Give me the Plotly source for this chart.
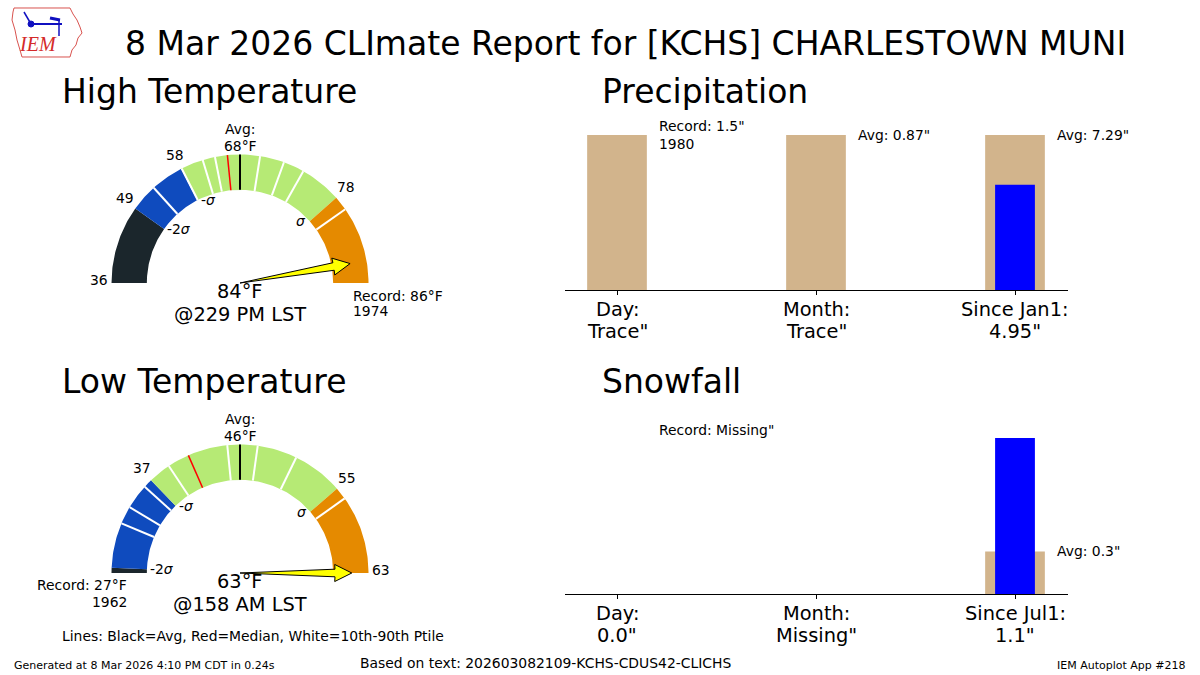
import numpy as np
import plotly.graph_objects as go

W, H = 1200, 675
FONT = "DejaVu Sans"

# ---------------- data ----------------
TITLE = "8 Mar 2026 CLImate Report for [KCHS] CHARLESTOWN MUNI"

# High temperature gauge
HIGH_MIN = 36
HIGH_AVG = 68
HIGH_MAX = 86
HIGH_SIGMA = 9.7
HIGH_PTILES = [53, 58.4, 62, 64, 69.8, 72, 73.9, 79]
HIGH_MEDIAN = 66
HIGH_OBS = 84
HIGH_OBS_TIME = "@229 PM LST"
HIGH_TICKS = [36, 48.6, 58.3, 77.7]
HIGH_RECORD = 86
HIGH_RECORD_YEAR = 1974

# Low temperature gauge
LOW_MIN = 27
LOW_AVG = 46
LOW_MAX = 63
LOW_SIGMA = 9.25
LOW_PTILES = [31.8, 33.5, 35.9, 38.9, 44.8, 47.5, 50.9, 56.3]
LOW_MEDIAN = 41
LOW_OBS = 63
LOW_OBS_TIME = "@158 AM LST"
LOW_TICKS = [36.75, 55.25, 63]
LOW_RECORD = 27
LOW_RECORD_YEAR = 1962

# Precipitation ("Trace" plotted as 0)
PRECIP_CATS = ["Day:", "Month:", "Since Jan1:"]
PRECIP_OBS = [0.0, 0.0, 4.95]
PRECIP_OBS_TEXT = ['Trace"', 'Trace"', '4.95"']
PRECIP_REF = [1.5, 0.87, 7.29]
PRECIP_REF_TEXT = ['Record: 1.5"<br>1980', 'Avg: 0.87"', 'Avg: 7.29"']

# Snowfall
SNOW_CATS = ["Day:", "Month:", "Since Jul1:"]
SNOW_OBS = [0.0, None, 1.1]
SNOW_OBS_TEXT = ['0.0"', 'Missing"', '1.1"']
SNOW_REF = [None, None, 0.3]
SNOW_REF_TEXT = ['Record: Missing"', None, 'Avg: 0.3"']

BAND_COLORS = ["#1b262c", "#0f4bbe", "#b6ea75", "#e58a00"]


def px_x(x):
    return x / W


def px_y(y):
    return 1 - y / H


fig = go.Figure()

# ---------------- gauge axes geometry ----------------
R_PX = 128.5
GX = (-1.8, 1.8)
GY = (-0.7, 1.35)


def gauge_domain(cx, cy):
    xd = [px_x(cx + GX[0] * R_PX), px_x(cx + GX[1] * R_PX)]
    yd = [px_y(cy - GY[0] * R_PX), px_y(cy - GY[1] * R_PX)]
    return xd, yd


R_IN, R_OUT = 0.725, 1.0


def ang(v, vmin, avg, vmax):
    if v <= avg:
        return np.pi - (v - vmin) / (avg - vmin) * np.pi / 2
    return np.pi / 2 - (v - avg) / (vmax - avg) * np.pi / 2


annotations = []


def ann(text, x, y, xref, yref, size=13.9, xanchor="center", yanchor="middle",
        color="black", align="center", family=FONT):
    annotations.append(dict(text=text, x=x, y=y, xref=xref, yref=yref,
                            showarrow=False, xanchor=xanchor, yanchor=yanchor,
                            align=align, font=dict(size=size, color=color, family=family)))


def gauge(xa, ya, vmin, avg, vmax, sigma, ptiles, median, obs, obs_time,
          ticks, record, record_year, record_side):
    bounds = [vmin, max(vmin, avg - 2 * sigma), avg - sigma, avg + sigma, vmax]
    for i in range(4):
        a0 = ang(bounds[i], vmin, avg, vmax)
        a1 = ang(bounds[i + 1], vmin, avg, vmax)
        t = np.linspace(a0, a1, 50)
        xs = np.concatenate([R_OUT * np.cos(t), R_IN * np.cos(t[::-1])])
        ys = np.concatenate([R_OUT * np.sin(t), R_IN * np.sin(t[::-1])])
        fig.add_trace(go.Scatter(x=xs, y=ys, fill="toself", fillcolor=BAND_COLORS[i],
                                 mode="lines", line=dict(width=0, color=BAND_COLORS[i]),
                                 xaxis=xa, yaxis=ya, hoverinfo="skip"))
    # percentile lines
    for v, c, w in [(p, "white", 2) for p in ptiles] + [(median, "red", 1.5), (avg, "black", 2)]:
        a = ang(v, vmin, avg, vmax)
        fig.add_trace(go.Scatter(x=[R_IN * np.cos(a), R_OUT * np.cos(a)],
                                 y=[R_IN * np.sin(a), R_OUT * np.sin(a)],
                                 mode="lines", line=dict(color=c, width=w),
                                 xaxis=xa, yaxis=ya, hoverinfo="skip"))
    # arrow
    a = ang(obs, vmin, avg, vmax)
    L, h, ds, dh = 0.87, 0.13, 0.04, 0.09
    pts = [(0.0, a), (L - h, a + ds), (L - h, a + dh), (L, a), (L - h, a - dh), (L - h, a - ds), (0.0, a)]
    fig.add_trace(go.Scatter(x=[r * np.cos(t) for r, t in pts], y=[r * np.sin(t) for r, t in pts],
                             fill="toself", fillcolor="#ffff00", mode="lines",
                             line=dict(color="black", width=1), xaxis=xa, yaxis=ya, hoverinfo="skip"))
    xr, yr = xa, ya
    # tick labels
    for v in ticks:
        t = ang(v, vmin, avg, vmax)
        ann(f"{v:.0f}", 1.1 * np.cos(t), 1.1 * np.sin(t) + 0.02, xr, yr)
    # sigma labels
    for v, lab in [(avg - 2 * sigma, "-2<i>σ</i>"), (avg - sigma, "-<i>σ</i>"), (avg + sigma, "<i>σ</i>")]:
        t = ang(v, vmin, avg, vmax)
        ann(lab, R_IN * np.cos(t) + (0.01 if v < avg else -0.01), R_IN * np.sin(t), xr, yr,
            xanchor="left" if v < avg else "right")
    # avg
    ann("Avg:", 0, 1.198, xr, yr)
    ann(f"{avg}°F", 0, 1.066, xr, yr)
    # observed
    ann(f"{obs}°F", 0, -0.07, xr, yr, size=19.4)
    ann(obs_time, 0, -0.249, xr, yr, size=19.4)
    # record
    if record_side == "right":
        ann(f"Record: {record}°F", 0.864, -0.101, xr, yr, xanchor="left")
        ann(f"{record_year}", 0.864, -0.218, xr, yr, xanchor="left")
    else:
        ann(f"Record: {record}°F", -0.866, -0.095, xr, yr, xanchor="right")
        ann(f"{record_year}", -0.866, -0.226, xr, yr, xanchor="right")


gauge("x", "y", HIGH_MIN, HIGH_AVG, HIGH_MAX, HIGH_SIGMA, HIGH_PTILES, HIGH_MEDIAN,
      HIGH_OBS, HIGH_OBS_TIME, HIGH_TICKS, HIGH_RECORD, HIGH_RECORD_YEAR, "right")
gauge("x2", "y2", LOW_MIN, LOW_AVG, LOW_MAX, LOW_SIGMA, LOW_PTILES, LOW_MEDIAN,
      LOW_OBS, LOW_OBS_TIME, LOW_TICKS, LOW_RECORD, LOW_RECORD_YEAR, "left")

# ---------------- bar panels ----------------
YTOP = 1.15


def bars(xa, ya, cats, obs, obs_text, ref, ref_text, axis_px):
    tan_h, blue_h = [], []
    for o, r in zip(obs, ref):
        vals = [v for v in (o, r) if v is not None]
        d = max(vals) if vals else 0
        tan_h.append(r / d if (r is not None and d > 0) else None)
        blue_h.append(o / d if (o is not None and d > 0) else None)
    xs = list(range(len(obs)))
    fig.add_trace(go.Bar(x=xs, y=tan_h, width=0.3, marker=dict(color="#d2b48c", line=dict(width=0)),
                         xaxis=xa, yaxis=ya, hoverinfo="skip"))
    fig.add_trace(go.Bar(x=xs, y=blue_h, width=0.2, marker=dict(color="#0000ff", line=dict(width=0)),
                         xaxis=xa, yaxis=ya, hoverinfo="skip"))
    for i, txt in enumerate(ref_text):
        if txt is None:
            continue
        yv = tan_h[i] if tan_h[i] is not None else 1.05
        ann(txt, i + 0.2, yv, xa, ya, xanchor="left", align="left")
    # category labels (two lines) below the axis ticks
    for i, (c, t) in enumerate(zip(cats, obs_text)):
        ann(c, i, px_y(axis_px + 19), xa, "paper", size=19.4)
        ann(t, i, px_y(axis_px + 41), xa, "paper", size=19.4)


bars("x3", "y3", PRECIP_CATS, PRECIP_OBS, PRECIP_OBS_TEXT, PRECIP_REF, PRECIP_REF_TEXT, 290)
bars("x4", "y4", SNOW_CATS, SNOW_OBS, SNOW_OBS_TEXT, SNOW_REF, SNOW_REF_TEXT, 594)

# ---------------- layout ----------------
hx, hy = gauge_domain(240, 283)
lx, ly = gauge_domain(240, 573)
gax = dict(visible=False, fixedrange=True)

BX0, BX1 = 565, 1068
TICK0, TICKSTEP = 617, 199
bx_range = [(BX0 - TICK0) / TICKSTEP, (BX1 - TICK0) / TICKSTEP]


def bar_xaxis(cats, anchor):
    return dict(domain=[px_x(BX0), px_x(BX1)], range=bx_range, anchor=anchor,
                showline=True, linecolor="black", linewidth=1.2, showgrid=False, zeroline=False,
                ticks="outside", ticklen=4, tickwidth=1, tickcolor="black",
                tickvals=list(range(len(cats))), showticklabels=False, fixedrange=True)


def bar_yaxis(y0px, y1px, anchor):
    unit = y0px - y1px
    return dict(domain=[px_y(y0px), px_y(y0px - YTOP * unit)], range=[0, YTOP], visible=False,
                anchor=anchor, fixedrange=True)


fig.update_layout(
    width=W, height=H, margin=dict(l=0, r=0, t=0, b=0),
    paper_bgcolor="white", plot_bgcolor="white", showlegend=False, barmode="overlay",
    xaxis=dict(domain=hx, range=GX, anchor="y", **gax),
    yaxis=dict(domain=hy, range=GY, anchor="x", **gax),
    xaxis2=dict(domain=lx, range=GX, anchor="y2", **gax),
    yaxis2=dict(domain=ly, range=GY, anchor="x2", **gax),
    xaxis3=bar_xaxis(PRECIP_CATS, "y3"),
    yaxis3=bar_yaxis(290, 135, "x3"),
    xaxis4=bar_xaxis(SNOW_CATS, "y4"),
    yaxis4=bar_yaxis(594, 438, "x4"),
)

# titles & text
ann(TITLE, px_x(625), px_y(43), "paper", "paper", size=33)
ann("High Temperature", px_x(60), px_y(91), "paper", "paper", size=33, xanchor="left")
ann("Precipitation", px_x(600), px_y(91), "paper", "paper", size=33, xanchor="left")
ann("Low Temperature", px_x(60), px_y(381), "paper", "paper", size=33, xanchor="left")
ann("Snowfall", px_x(600), px_y(381), "paper", "paper", size=33, xanchor="left")
ann("Lines: Black=Avg, Red=Median, White=10th-90th Ptile", px_x(60), px_y(636), "paper", "paper",
    xanchor="left")
ann("Generated at 8 Mar 2026 4:10 PM CDT in 0.24s", px_x(12), px_y(665), "paper", "paper",
    size=11, xanchor="left")
ann("Based on text: 202603082109-KCHS-CDUS42-CLICHS", px_x(545), px_y(663), "paper", "paper", size=13.9)
ann("IEM Autoplot App #218", px_x(1188), px_y(665), "paper", "paper", size=11, xanchor="right")

# logo (decoration)
iowa = [(14, 8), (70, 8), (73, 14), (77, 20), (80, 27), (82, 33), (78, 38), (76, 45), (72, 50),
        (70, 57), (22, 57), (20, 50), (17, 40), (15, 30), (12, 20), (13, 12)]
path = "M " + " L ".join(f"{px_x(x):.5f},{px_y(y):.5f}" for x, y in iowa) + " Z"
shapes = [dict(type="path", path=path, xref="paper", yref="paper",
               line=dict(color="#d9534f", width=1))]
shapes.append(dict(type="line", xref="paper", yref="paper", x0=px_x(31), y0=px_y(24), x1=px_x(62), y1=px_y(24),
                   line=dict(color="#1010c0", width=2)))
shapes.append(dict(type="circle", xref="paper", yref="paper", x0=px_x(28), y0=px_y(27), x1=px_x(34), y1=px_y(21),
                   fillcolor="#1010c0", line=dict(color="#1010c0", width=1)))
shapes.append(dict(type="line", xref="paper", yref="paper", x0=px_x(31), y0=px_y(24), x1=px_x(24), y1=px_y(12),
                   line=dict(color="#1010c0", width=1.5)))
shapes.append(dict(type="line", xref="paper", yref="paper", x0=px_x(50), y0=px_y(18), x1=px_x(60), y1=px_y(20),
                   line=dict(color="#1010c0", width=3)))
shapes.append(dict(type="line", xref="paper", yref="paper", x0=px_x(59), y0=px_y(20), x1=px_x(59), y1=px_y(36),
                   line=dict(color="#1010c0", width=1.5)))
ann("<i>IEM</i>", px_x(38), px_y(44), "paper", "paper", size=20, color="#d42a2a", family="Liberation Serif")

fig.update_layout(annotations=annotations, shapes=shapes)
fig.write_html("out.html")
